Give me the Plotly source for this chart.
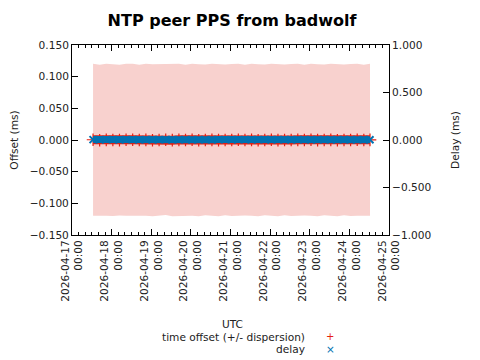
import plotly.graph_objects as go

# ---- data ----
times = [
    "2026-04-17 12:45", "2026-04-17 16:45", "2026-04-17 20:45",
    "2026-04-18 00:45", "2026-04-18 04:45", "2026-04-18 08:45", "2026-04-18 12:45", "2026-04-18 16:45", "2026-04-18 20:45",
    "2026-04-19 00:45", "2026-04-19 04:45", "2026-04-19 08:45", "2026-04-19 12:45", "2026-04-19 16:45", "2026-04-19 20:45",
    "2026-04-20 00:45", "2026-04-20 04:45", "2026-04-20 08:45", "2026-04-20 12:45", "2026-04-20 16:45", "2026-04-20 20:45",
    "2026-04-21 00:45", "2026-04-21 04:45", "2026-04-21 08:45", "2026-04-21 12:45", "2026-04-21 16:45", "2026-04-21 20:45",
    "2026-04-22 00:45", "2026-04-22 04:45", "2026-04-22 08:45", "2026-04-22 12:45", "2026-04-22 16:45", "2026-04-22 20:45",
    "2026-04-23 00:45", "2026-04-23 04:45", "2026-04-23 08:45", "2026-04-23 12:45", "2026-04-23 16:45", "2026-04-23 20:45",
    "2026-04-24 00:45", "2026-04-24 04:45", "2026-04-24 08:45", "2026-04-24 12:30",
]
offset_ms = [
    0.0004, -0.0003, 0.0002,
    0.0001, -0.0002, 0.0003, 0.0005, -0.0001, 0.0002,
    -0.0003, 0.0001, 0.0004, -0.0002, 0.0002, 0.0000,
    0.0003, -0.0004, 0.0001, 0.0002, -0.0002, 0.0001,
    0.0000, 0.0003, -0.0001, 0.0002, -0.0003, 0.0001,
    0.0004, -0.0002, 0.0001, 0.0000, 0.0002, -0.0001,
    0.0003, -0.0002, 0.0001, 0.0002, -0.0003, 0.0001,
    0.0000, 0.0004, -0.0001, 0.0002,
]
dispersion_ms = [
    0.120, 0.119, 0.120,
    0.120, 0.119, 0.120, 0.120, 0.119, 0.120,
    0.120, 0.120, 0.119, 0.120, 0.120, 0.119,
    0.120, 0.120, 0.119, 0.120, 0.120, 0.119,
    0.120, 0.120, 0.119, 0.120, 0.120, 0.119,
    0.120, 0.120, 0.119, 0.120, 0.120, 0.119,
    0.120, 0.120, 0.119, 0.120, 0.120, 0.119,
    0.120, 0.120, 0.119, 0.120,
]
delay_ms = [
    0.004, 0.003, 0.004,
    0.004, 0.003, 0.004, 0.004, 0.003, 0.004,
    0.003, 0.004, 0.004, 0.003, 0.004, 0.004,
    0.003, 0.004, 0.004, 0.003, 0.004, 0.004,
    0.003, 0.004, 0.004, 0.003, 0.004, 0.004,
    0.003, 0.004, 0.004, 0.003, 0.004, 0.004,
    0.003, 0.004, 0.004, 0.003, 0.004, 0.004,
    0.003, 0.004, 0.004, 0.003,
]
x_ticks = ["2026-04-%02d 00:00" % d for d in range(17, 26)]
x_tick_labels = ["2026-04-%02d<br>00:00" % d for d in range(17, 26)]
y1_ticks = [-0.15, -0.10, -0.05, 0.0, 0.05, 0.10, 0.15]
y2_ticks = [-1.0, -0.5, 0.0, 0.5, 1.0]

RED = "#e51e10"
BLUE = "#0072b2"
PINK = "#f8d1ce"
FONT = "DejaVu Sans"
FS = 10.6

upper = [o + d for o, d in zip(offset_ms, dispersion_ms)]
lower = [o - d for o, d in zip(offset_ms, dispersion_ms)]

fig = go.Figure()
fig.add_trace(go.Scatter(x=times, y=lower, mode="lines", line=dict(width=0, color=PINK),
                         showlegend=False, hoverinfo="skip"))
fig.add_trace(go.Scatter(x=times, y=upper, mode="lines", line=dict(width=0, color=PINK),
                         fill="tonexty", fillcolor=PINK, showlegend=False, hoverinfo="skip"))
fig.add_trace(go.Scatter(x=times, y=offset_ms, mode="lines+markers", name="time offset (+/- dispersion)",
                         line=dict(color=RED, width=9),
                         marker=dict(symbol="cross-thin", size=9, line=dict(color=RED, width=1.2)),
                         showlegend=False))
fig.add_trace(go.Scatter(x=times, y=delay_ms, mode="lines+markers", name="delay", yaxis="y2",
                         line=dict(color=BLUE, width=7),
                         marker=dict(symbol="x-thin", size=7, color=BLUE, line=dict(color=BLUE, width=2)),
                         showlegend=False))

# The page body adds an 8 px offset; reference pixel coords are converted accordingly.
OFF = 8
W, H = 480 - OFF, 360 - OFF
L, R, T, B = 72 - OFF, 389 - OFF, 45 - OFF, 235 - OFF

def px(xp):
    return (xp - OFF - L) / (R - L)
def py(yp):
    return (B - (yp - OFF)) / (B - T)

axis_font = dict(family=FONT, size=FS, color="#222")
fig.update_layout(
    width=W, height=H,
    margin=dict(l=L, r=W - R, t=T, b=H - B, autoexpand=False),
    paper_bgcolor="white", plot_bgcolor="white",
    font=dict(family=FONT, size=FS, color="#222"),
    title=dict(text="<b>NTP peer PPS from badwolf</b>", x=(232 - OFF) / W, xanchor="center",
               y=1 - (20 - OFF) / H, yanchor="middle", font=dict(family=FONT, size=16, color="black")),
    xaxis=dict(type="date", range=["2026-04-17 00:00", "2026-04-25 00:00"], automargin=False,
               tickmode="array", tickvals=x_ticks, ticktext=x_tick_labels, tickangle=-90,
               ticks="inside", ticklen=6, tickcolor="black", showline=True, linecolor="black",
               linewidth=1, mirror="ticks", showgrid=False, zeroline=False, tickfont=axis_font,
               minor=dict(dtick=4 * 3600 * 1000, ticks="inside", ticklen=3, tickcolor="black", showgrid=False)),
    yaxis=dict(range=[-0.15, 0.15], tickmode="array", tickvals=y1_ticks, tickformat=".3f", automargin=False,
               ticks="inside", ticklen=6, tickcolor="black", showline=True, linecolor="black",
               linewidth=1, showgrid=False, zeroline=False, tickfont=axis_font,
               title=dict(text="Offset (ms)", font=dict(family=FONT, size=FS, color="#222"), standoff=15)),
    yaxis2=dict(range=[-1.0, 1.0], tickmode="array", tickvals=y2_ticks, tickformat=".3f", automargin=False,
                overlaying="y", side="right",
                ticks="inside", ticklen=6, tickcolor="black", showline=True, linecolor="black",
                linewidth=1, showgrid=False, zeroline=False, tickfont=axis_font,
                title=dict(text="Delay (ms)", font=dict(family=FONT, size=FS, color="#222"), standoff=20)),
    showlegend=False,
)

ann_font = dict(family=FONT, size=FS, color="#222")
fig.add_annotation(text="UTC", xref="paper", yref="paper", x=px(232), y=py(324), borderpad=0,
                   xanchor="center", yanchor="middle", showarrow=False, font=ann_font)
fig.add_annotation(text="time offset (+/- dispersion)", xref="paper", yref="paper", x=px(306), y=py(337),
                   borderpad=0, xanchor="right", yanchor="middle", showarrow=False, font=ann_font)
fig.add_annotation(text="delay", xref="paper", yref="paper", x=px(306), y=py(349), borderpad=0,
                   xanchor="right", yanchor="middle", showarrow=False, font=ann_font)
fig.add_annotation(text="+", xref="paper", yref="paper", x=px(330), y=py(336.5), borderpad=0,
                   xanchor="center", yanchor="middle", showarrow=False,
                   font=dict(family=FONT, size=10, color=RED))
fig.add_annotation(text="×", xref="paper", yref="paper", x=px(330), y=py(349), borderpad=0,
                   xanchor="center", yanchor="middle", showarrow=False,
                   font=dict(family=FONT, size=10.5, color=BLUE))

fig.write_html("out.html")
